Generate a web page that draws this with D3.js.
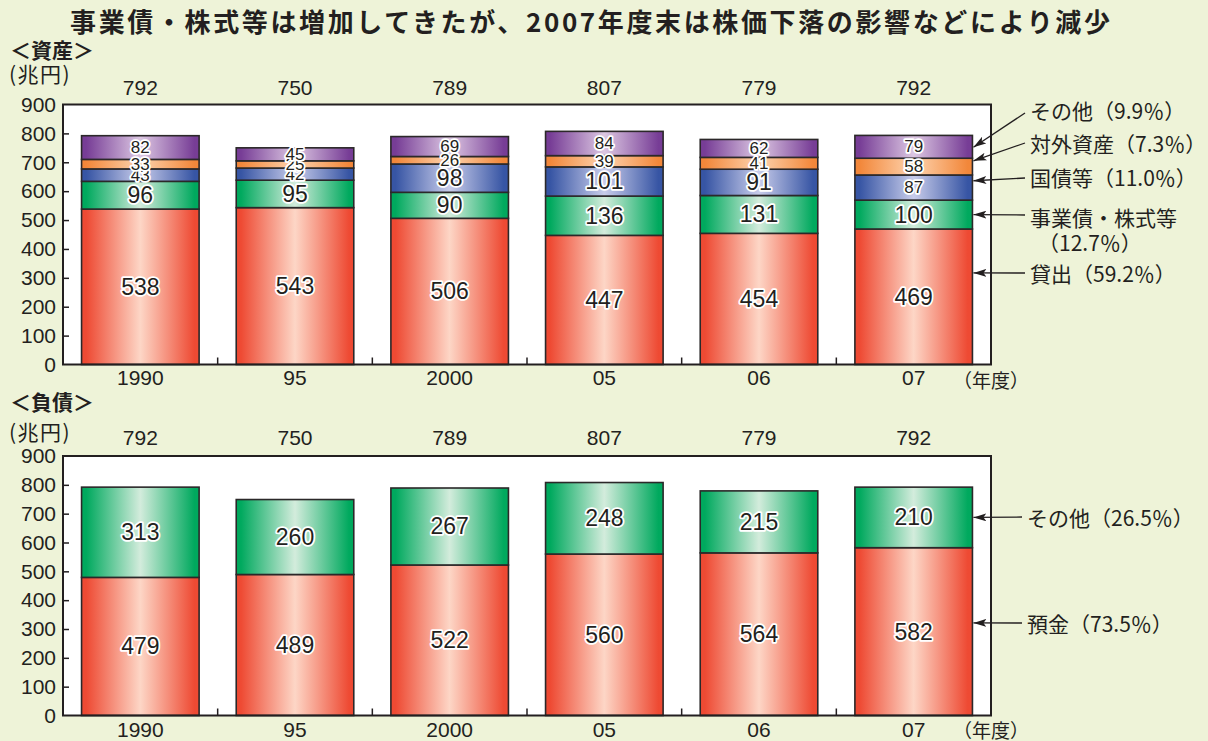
<!DOCTYPE html>
<html><head><meta charset="utf-8">
<script src="https://cdn.jsdelivr.net/npm/d3@7"></script>
<style>
body{margin:0;background:#EEF3D8;}
svg{display:block}
.num{font-family:"Liberation Sans",Arial,sans-serif;fill:#231F20;}
.jp{font-family:"Noto Sans CJK JP","Noto Sans",sans-serif;fill:#231F20;}
</style>
</head><body><svg id="c" width="1208" height="741"></svg>
<script>
// ---------- data ----------
const years = ["1990", "95", "2000", "05", "06", "07"];
const assetLoans   = [538, 543, 506, 447, 454, 469];
const assetCorp    = [96, 95, 90, 136, 131, 100];
const assetGov     = [43, 42, 98, 101, 91, 87];
const assetForeign = [33, 25, 26, 39, 41, 58];
const assetOther   = [82, 45, 69, 84, 62, 79];
const assetTotals  = [792, 750, 789, 807, 779, 792];
const liabDeposits = [479, 489, 522, 560, 564, 582];
const liabOther    = [313, 260, 267, 248, 215, 210];
const liabTotals   = [792, 750, 789, 807, 779, 792];
const yTickValues  = [0, 100, 200, 300, 400, 500, 600, 700, 800, 900];
const assetSeries  = ["loans", "corp", "gov", "foreign", "other"];
const liabSeries   = ["deposits", "other"];
// legend labels and the value (in 兆円) their arrow points at on the 07 bar
const assetLegend = [
  {lines: ["その他（9.9％）"], target: 752, textY: 110, lineY: 113},
  {lines: ["対外資産（7.3％）"], target: 705, textY: 143, lineY: 143},
  {lines: ["国債等（11.0％）"], target: 636, textY: 177, lineY: 178},
  {lines: ["事業債・株式等", "（12.7％）"], target: 519, textY: 217, lineY: 215},
  {lines: ["貸出（59.2％）"], target: 317, textY: 273, lineY: 273}
];
const liabLegend = [
  {lines: ["その他（26.5％）"], target: 687, textY: 517, lineY: 517},
  {lines: ["預金（73.5％）"], target: 321, textY: 623, lineY: 623}
];
const title = "事業債・株式等は増加してきたが、2007年度末は株価下落の影響などにより減少";

// ---------- colours ----------
const grads = {
  red:    ["#EE4A33", "#FDD6C6"],
  green:  ["#00A95E", "#D3ECDC"],
  blue:   ["#3755A4", "#C8CCEA"],
  orange: ["#F2873A", "#FDD3AE"],
  purple: ["#773D96", "#DCC7E2"]
};
const assetColor = {loans: "red", corp: "green", gov: "blue", foreign: "orange", other: "purple"};
const liabColor  = {deposits: "red", other: "green"};

const svg = d3.select("#c");
const defs = svg.append("defs");
Object.entries(grads).forEach(([k, [dark, light]]) => {
  const g = defs.append("linearGradient").attr("id", "g-" + k)
    .attr("x1", "0%").attr("x2", "100%").attr("y1", "0%").attr("y2", "0%");
  g.append("stop").attr("offset", "0%").attr("stop-color", dark);
  g.append("stop").attr("offset", "4%").attr("stop-color", dark);
  g.append("stop").attr("offset", "50%").attr("stop-color", light);
  g.append("stop").attr("offset", "96%").attr("stop-color", dark);
  g.append("stop").attr("offset", "100%").attr("stop-color", dark);
});
const arrow = defs.append("marker").attr("id", "arr")
  .attr("viewBox", "0 0 13 8").attr("refX", 13).attr("refY", 4)
  .attr("markerWidth", 13).attr("markerHeight", 8).attr("markerUnits", "userSpaceOnUse")
  .attr("orient", "auto");
arrow.append("path").attr("d", "M0,0 L13,4 L0,8 L3,4 Z").attr("fill", "#231F20");

svg.append("rect").attr("width", 1208).attr("height", 741).attr("fill", "#EEF3D8");

// title
svg.append("text").attr("class", "jp").attr("x", 70).attr("y", 32)
  .attr("font-size", 26).attr("font-weight", "bold")
  .attr("textLength", 1040).attr("lengthAdjust", "spacing")
  .text(title);

const x = d3.scaleBand().domain(years).range([63, 991]).paddingInner(0.24).paddingOuter(0.12);

function panel(opts) {
  const {y0, y1, heading, headY, unitY, totalsY, yearPad, rows, keys, colorMap, totals, legend, legendX, yearUnitY} = opts;
  const y = d3.scaleLinear().domain([0, 900]).range([y0, y1]);
  const g = svg.append("g");

  // heading + unit
  g.append("text").attr("class", "jp").attr("x", 10).attr("y", headY)
    .attr("font-size", 21).attr("font-weight", "bold").text(heading);
  g.append("text").attr("class", "jp").attr("x", 9).attr("y", unitY)
    .attr("font-size", 21).attr("letter-spacing", 1.5).text("(兆円)");

  // frame
  g.append("rect").attr("x", 63).attr("y", y1).attr("width", 928).attr("height", y0 - y1)
    .attr("fill", "#fff");

  // stacked bars
  const stack = d3.stack().keys(keys)(rows);
  const segs = g.append("g");
  stack.forEach(layer => {
    layer.forEach((d, i) => {
      segs.append("rect")
        .attr("x", x(years[i])).attr("width", x.bandwidth())
        .attr("y", y(d[1])).attr("height", y(d[0]) - y(d[1]))
        .attr("fill", `url(#g-${colorMap[layer.key]})`)
        .attr("stroke", "#2B2829").attr("stroke-width", 1.6);
    });
  });
  // labels
  stack.forEach(layer => {
    layer.forEach((d, i) => {
      const v = d.data[layer.key];
      const h = y(d[0]) - y(d[1]);
      const fs = h >= 26 ? 23 : 17;
      g.append("text").attr("class", "num")
        .attr("x", x(years[i]) + x.bandwidth() / 2)
        .attr("y", y((d[0] + d[1]) / 2))
        .attr("text-anchor", "middle").attr("dominant-baseline", "central")
        .attr("font-size", fs)
        .attr("stroke", "#fff").attr("stroke-width", 3.5).attr("paint-order", "stroke")
        .attr("stroke-linejoin", "round")
        .text(v);
    });
  });

  // frame border on top
  g.append("rect").attr("x", 63).attr("y", y1).attr("width", 928).attr("height", y0 - y1)
    .attr("fill", "none").attr("stroke", "#231F20").attr("stroke-width", 2);

  // y axis labels
  const yAxis = g.append("g").attr("transform", "translate(63,0)")
    .call(d3.axisLeft(y).tickValues(yTickValues).tickSize(0).tickPadding(7).tickFormat(d3.format("d")));
  yAxis.select(".domain").remove();
  yAxis.selectAll("text").attr("font-size", 21)
    .attr("font-family", "Liberation Sans, Arial, sans-serif").attr("fill", "#231F20");
  // inner ticks
  const yIn = g.append("g").attr("transform", "translate(63,0)")
    .call(d3.axisRight(y).tickValues(yTickValues.slice(1, -1)).tickSize(6).tickFormat(""));
  yIn.select(".domain").remove();
  yIn.selectAll("line").attr("stroke", "#231F20").attr("stroke-width", 1.5);

  // x axis labels
  const xAxis = g.append("g").attr("transform", `translate(0,${y0})`)
    .call(d3.axisBottom(x).tickSize(0).tickPadding(yearPad));
  xAxis.select(".domain").remove();
  xAxis.selectAll("text").attr("font-size", 21)
    .attr("font-family", "Liberation Sans, Arial, sans-serif").attr("fill", "#231F20");
  // ticks between bars
  years.slice(0, -1).forEach((yr, i) => {
    const xmid = (x(yr) + x.bandwidth() + x(years[i + 1])) / 2;
    g.append("line").attr("x1", xmid).attr("x2", xmid).attr("y1", y0).attr("y2", y0 - 7)
      .attr("stroke", "#231F20").attr("stroke-width", 1.5);
  });
  g.append("text").attr("class", "jp").attr("x", 953).attr("y", yearUnitY)
    .attr("dominant-baseline", "central").attr("font-size", 19).text("（年度）");

  // totals
  totals.forEach((t, i) => {
    g.append("text").attr("class", "num")
      .attr("x", x(years[i]) + x.bandwidth() / 2).attr("y", totalsY)
      .attr("text-anchor", "middle").attr("font-size", 21).text(t);
  });

  // legend with arrows
  const tipX = x(years[years.length - 1]) + x.bandwidth() + 1;
  legend.forEach(l => {
    g.append("line").attr("x1", legendX - 5).attr("y1", l.lineY)
      .attr("x2", tipX).attr("y2", y(l.target))
      .attr("stroke", "#231F20").attr("stroke-width", 1.3).attr("marker-end", "url(#arr)");
    l.lines.forEach((s, k) => {
      g.append("text").attr("class", "jp")
        .attr("x", legendX + (k > 0 ? 8 : 0)).attr("y", l.textY + k * 25)
        .attr("dominant-baseline", "central").attr("font-size", 21).text(s);
    });
  });
}

const assetRows = years.map((yr, i) => ({
  year: yr, loans: assetLoans[i], corp: assetCorp[i], gov: assetGov[i],
  foreign: assetForeign[i], other: assetOther[i]
}));
const liabRows = years.map((yr, i) => ({ year: yr, deposits: liabDeposits[i], other: liabOther[i] }));

panel({y0: 364.5, y1: 104.5, heading: "＜資産＞", headY: 58, unitY: 82, totalsY: 95, yearPad: 6,
  rows: assetRows, keys: assetSeries, colorMap: assetColor, totals: assetTotals,
  legend: assetLegend, legendX: 1030, yearUnitY: 379});
panel({y0: 715.5, y1: 456, heading: "＜負債＞", headY: 410, unitY: 440, totalsY: 445, yearPad: 7,
  rows: liabRows, keys: liabSeries, colorMap: liabColor, totals: liabTotals,
  legend: liabLegend, legendX: 1027, yearUnitY: 729});
</script>
</body></html>
